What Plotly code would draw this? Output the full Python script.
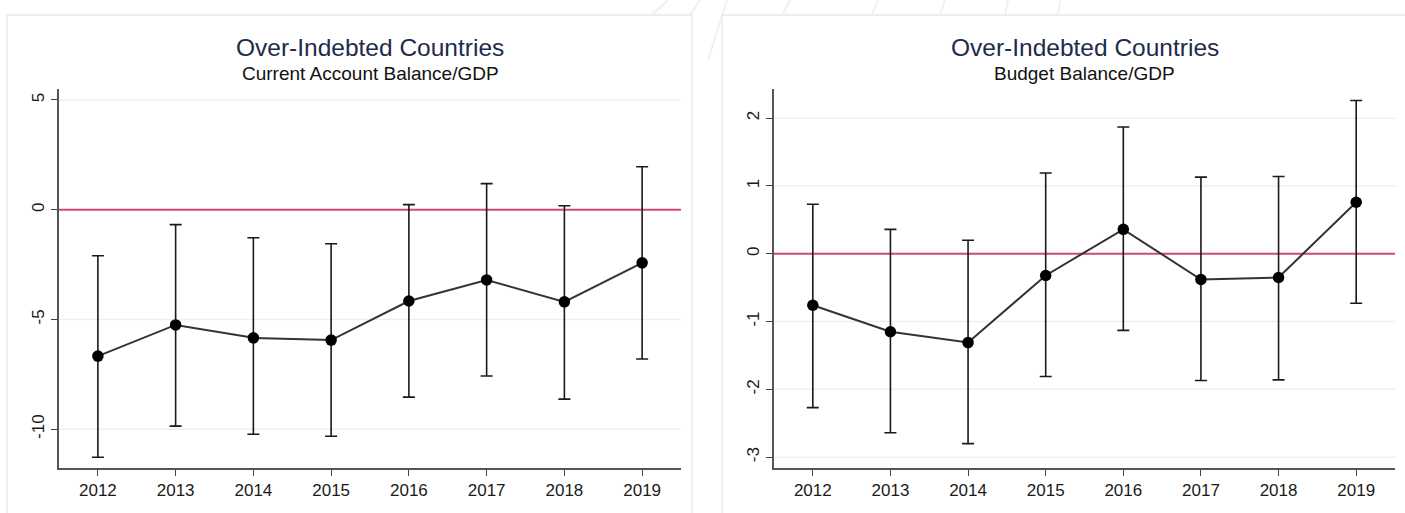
import plotly.graph_objects as go

years = [2012, 2013, 2014, 2015, 2016, 2017, 2018, 2019]

# Current Account Balance/GDP
ca_mean = [-6.67, -5.25, -5.84, -5.94, -4.16, -3.20, -4.20, -2.42]
ca_low = [-11.28, -9.86, -10.23, -10.32, -8.54, -7.58, -8.63, -6.80]
ca_high = [-2.10, -0.68, -1.28, -1.55, 0.23, 1.19, 0.18, 1.96]

# Budget Balance/GDP
bb_mean = [-0.76, -1.15, -1.31, -0.32, 0.36, -0.38, -0.35, 0.76]
bb_low = [-2.27, -2.64, -2.80, -1.81, -1.13, -1.87, -1.86, -0.73]
bb_high = [0.73, 0.36, 0.20, 1.19, 1.87, 1.13, 1.14, 2.26]

title_main = "Over-Indebted Countries"
subtitles = ["Current Account Balance/GDP", "Budget Balance/GDP"]
ca_ticks = [5, 0, -5, -10]
bb_ticks = [2, 1, 0, -1, -2, -3]

W, H = 1405, 513
FONT = "Liberation Sans, Arial, sans-serif"

fig = go.Figure()

def add_series(mean, low, high, xa, ya):
    fig.add_trace(go.Scatter(
        x=years, y=mean, xaxis=xa, yaxis=ya, mode="lines+markers",
        line=dict(color="#333333", width=2),
        marker=dict(color="black", size=11.5),
        error_y=dict(type="data", symmetric=False,
                     array=[h - m for h, m in zip(high, mean)],
                     arrayminus=[m - l for m, l in zip(mean, low)],
                     color="#1a1a1a", thickness=1.6, width=6),
        showlegend=False, hoverinfo="x+y"))

add_series(ca_mean, ca_low, ca_high, "x", "y")
add_series(bb_mean, bb_low, bb_high, "x2", "y2")

px = lambda v: v / W
py = lambda v: (H - v) / H

dom1 = [px(59), px(681)]
dom2 = [px(774), px(1395)]
ydom = [py(468), py(89)]

xcommon = dict(range=[2011.5, 2019.5], tickvals=years, ticks="outside", ticklen=6,
               tickwidth=1.3, tickcolor="#444", showline=True, linecolor="#555", linewidth=1.5,
               showgrid=False, zeroline=False,
               tickfont=dict(family=FONT, size=17, color="#1a1a1a"))
ycommon = dict(ticks="outside", ticklen=6, tickwidth=1.3, tickcolor="#444",
               showline=True, linecolor="#555", linewidth=1.5,
               showgrid=False, zeroline=False,
               tickangle=-90, tickfont=dict(family=FONT, size=17, color="#1a1a1a"))

fig.update_layout(
    width=W, height=H, margin=dict(l=0, r=0, t=0, b=0),
    paper_bgcolor="white", plot_bgcolor="rgba(0,0,0,0)",
    xaxis=dict(domain=dom1, anchor="y", **xcommon),
    yaxis=dict(domain=ydom, anchor="x", range=[-11.77, 5.5], tickvals=ca_ticks,
               ticktext=[str(t) for t in ca_ticks], **ycommon),
    xaxis2=dict(domain=dom2, anchor="y2", **xcommon),
    yaxis2=dict(domain=ydom, anchor="x2", range=[-3.16, 2.43], tickvals=bb_ticks,
                ticktext=[str(t) for t in bb_ticks], **ycommon),
    font=dict(family=FONT),
)

shapes = []
# faint watermark strokes
for x0, x1, y0, y1 in [(668, 652, 0, 15), (700, 690, 0, 15), (727, 708, 0, 60),
                       (790, 782, 0, 15), (878, 872, 0, 15), (945, 940, 0, 15),
                       (1008, 1005, 0, 15), (1060, 1058, 0, 15)]:
    shapes.append(dict(type="line", xref="paper", yref="paper", x0=px(x0), x1=px(x1),
                       y0=py(y0), y1=py(y1), line=dict(color="#f0f0f0", width=2), layer="below"))
# panels
for a, b in [(7, 692), (722, 1410)]:
    shapes.append(dict(type="rect", xref="paper", yref="paper", x0=px(a), x1=px(b),
                       y0=-0.05, y1=py(15), fillcolor="white",
                       line=dict(color="#e2ebee", width=1.3), layer="below"))
# gridlines (non-zero ticks) and zero reference lines
for xr, yr, ticks in [("x domain", "y", ca_ticks), ("x2 domain", "y2", bb_ticks)]:
    for t in ticks:
        if t != 0:
            shapes.append(dict(type="line", xref=xr, yref=yr, x0=0, x1=1, y0=t, y1=t,
                               line=dict(color="#eaf1f3", width=1.5), layer="below"))
    shapes.append(dict(type="line", xref=xr, yref=yr, x0=0, x1=1, y0=0, y1=0,
                       line=dict(color="#d04a6c", width=2), layer="below"))
fig.update_layout(shapes=shapes)

for dom, sub in [(dom1, subtitles[0]), (dom2, subtitles[1])]:
    cx = (dom[0] + dom[1]) / 2
    fig.add_annotation(x=cx, y=py(47), xref="paper", yref="paper", text=title_main,
                       showarrow=False, xanchor="center", yanchor="middle",
                       font=dict(family=FONT, size=24.5, color="#1e2b4d"))
    fig.add_annotation(x=cx, y=py(73), xref="paper", yref="paper", text=sub,
                       showarrow=False, xanchor="center", yanchor="middle",
                       font=dict(family=FONT, size=19, color="#111"))

fig.write_html("out.html")
